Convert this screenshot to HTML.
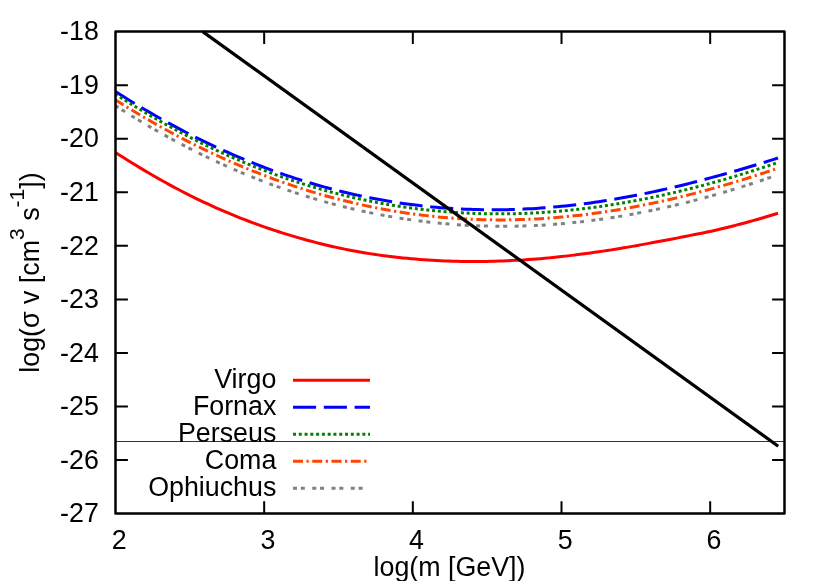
<!DOCTYPE html>
<html><head><meta charset="utf-8"><title>plot</title>
<style>
html,body{margin:0;padding:0;background:#fff;}
body{width:830px;height:581px;overflow:hidden;}
svg{display:block;}
text{font-family:"Liberation Sans",sans-serif;font-size:26.8px;fill:#000;}
</style></head><body>
<svg width="830" height="581" viewBox="0 0 830 581" style="will-change:transform;opacity:0.999">
<rect width="830" height="581" fill="#fff"/>
<g stroke="#000" stroke-width="2" fill="none"><path d="M115.5,460.04h12.4M784.5,460.04h-12.4"/><path d="M115.5,406.49h12.4M784.5,406.49h-12.4"/><path d="M115.5,352.93h12.4M784.5,352.93h-12.4"/><path d="M115.5,299.38h12.4M784.5,299.38h-12.4"/><path d="M115.5,245.82h12.4M784.5,245.82h-12.4"/><path d="M115.5,192.27h12.4M784.5,192.27h-12.4"/><path d="M115.5,138.71h12.4M784.5,138.71h-12.4"/><path d="M115.5,85.16h12.4M784.5,85.16h-12.4"/><path d="M264.17,513.6v-12.4M264.17,31.6v12.4"/><path d="M412.84,513.6v-12.4M412.84,31.6v12.4"/><path d="M561.51,513.6v-12.4M561.51,31.6v12.4"/><path d="M710.18,513.6v-12.4M710.18,31.6v12.4"/></g>
<text x="98.8" y="522.30" text-anchor="end">-27</text><text x="98.8" y="468.74" text-anchor="end">-26</text><text x="98.8" y="415.19" text-anchor="end">-25</text><text x="98.8" y="361.63" text-anchor="end">-24</text><text x="98.8" y="308.08" text-anchor="end">-23</text><text x="98.8" y="254.52" text-anchor="end">-22</text><text x="98.8" y="200.97" text-anchor="end">-21</text><text x="98.8" y="147.41" text-anchor="end">-20</text><text x="98.8" y="93.86" text-anchor="end">-19</text><text x="98.8" y="40.30" text-anchor="end">-18</text>
<text x="119.20" y="549.3" text-anchor="middle">2</text><text x="267.87" y="549.3" text-anchor="middle">3</text><text x="416.54" y="549.3" text-anchor="middle">4</text><text x="565.21" y="549.3" text-anchor="middle">5</text><text x="713.88" y="549.3" text-anchor="middle">6</text>
<text x="449.5" y="575.7" text-anchor="middle">log(m [GeV])</text>
<text transform="translate(39.4,272.5) rotate(-90)" text-anchor="middle">log(σ v [cm<tspan dy="-15" font-size="21">3</tspan><tspan dy="15"> s</tspan><tspan dy="-15" font-size="21">-1</tspan><tspan dy="15">])</tspan></text>
<path d="M115.50,152.46 L119.67,155.15 L123.83,157.81 L128.00,160.44 L132.17,163.03 L136.33,165.59 L140.50,168.11 L144.67,170.60 L148.83,173.05 L153.00,175.47 L157.17,177.86 L161.33,180.21 L165.50,182.53 L169.67,184.82 L173.83,187.07 L178.00,189.29 L182.17,191.48 L186.33,193.63 L190.50,195.73 L194.67,197.80 L198.83,199.81 L203.00,201.79 L207.17,203.73 L211.33,205.64 L215.50,207.52 L219.67,209.36 L223.83,211.16 L228.00,212.93 L232.17,214.67 L236.33,216.37 L240.50,218.04 L244.67,219.67 L248.83,221.26 L253.00,222.82 L257.17,224.35 L261.33,225.84 L265.50,227.31 L269.67,228.74 L273.83,230.14 L278.00,231.51 L282.17,232.84 L286.33,234.15 L290.50,235.42 L294.67,236.66 L298.83,237.88 L303.00,239.06 L307.17,240.20 L311.33,241.32 L315.50,242.40 L319.67,243.46 L323.83,244.48 L328.00,245.47 L332.17,246.43 L336.33,247.35 L340.50,248.25 L344.67,249.12 L348.83,249.95 L353.00,250.76 L357.17,251.53 L361.33,252.27 L365.50,252.97 L369.67,253.64 L373.83,254.27 L378.00,254.87 L382.17,255.44 L386.33,255.99 L390.50,256.50 L394.67,256.99 L398.83,257.46 L403.00,257.90 L407.17,258.32 L411.33,258.71 L415.50,259.07 L419.67,259.41 L423.83,259.72 L428.00,260.01 L432.17,260.26 L436.33,260.50 L440.50,260.71 L444.67,260.89 L448.83,261.05 L453.00,261.18 L457.17,261.29 L461.33,261.38 L465.50,261.44 L469.67,261.48 L473.83,261.50 L478.00,261.49 L482.17,261.46 L486.33,261.40 L490.50,261.32 L494.67,261.22 L498.83,261.10 L503.00,260.95 L507.17,260.78 L511.33,260.59 L515.50,260.37 L519.67,260.14 L523.83,259.88 L528.00,259.60 L532.17,259.30 L536.33,258.97 L540.50,258.63 L544.67,258.26 L548.83,257.87 L553.00,257.47 L557.17,257.04 L561.33,256.59 L565.50,256.12 L569.67,255.63 L573.83,255.13 L578.00,254.60 L582.17,254.06 L586.33,253.51 L590.50,252.94 L594.67,252.35 L598.83,251.75 L603.00,251.14 L607.17,250.51 L611.33,249.86 L615.50,249.20 L619.67,248.52 L623.83,247.82 L628.00,247.11 L632.17,246.39 L636.33,245.65 L640.50,244.89 L644.67,244.13 L648.83,243.37 L653.00,242.60 L657.17,241.84 L661.33,241.06 L665.50,240.28 L669.67,239.49 L673.83,238.68 L678.00,237.87 L682.17,237.04 L686.33,236.22 L690.50,235.40 L694.67,234.58 L698.83,233.75 L703.00,232.91 L707.17,232.05 L711.33,231.16 L715.50,230.24 L719.67,229.29 L723.83,228.30 L728.00,227.27 L732.17,226.22 L736.33,225.14 L740.50,224.04 L744.67,222.93 L748.83,221.80 L753.00,220.67 L757.17,219.50 L761.33,218.29 L765.50,217.06 L769.67,215.81 L773.83,214.53 L778.00,213.24" stroke="#ff0000" stroke-width="3" stroke-dashoffset="0" fill="none"/><path d="M115.50,91.58 L119.67,94.23 L123.83,96.84 L128.00,99.43 L132.17,101.99 L136.33,104.51 L140.50,107.01 L144.67,109.48 L148.83,111.91 L153.00,114.32 L157.17,116.69 L161.33,119.04 L165.50,121.36 L169.67,123.64 L173.83,125.90 L178.00,128.12 L182.17,130.32 L186.33,132.48 L190.50,134.61 L194.67,136.72 L198.83,138.79 L203.00,140.83 L207.17,142.84 L211.33,144.83 L215.50,146.78 L219.67,148.70 L223.83,150.59 L228.00,152.45 L232.17,154.28 L236.33,156.08 L240.50,157.85 L244.67,159.58 L248.83,161.29 L253.00,162.97 L257.17,164.62 L261.33,166.23 L265.50,167.82 L269.67,169.37 L273.83,170.90 L278.00,172.40 L282.17,173.86 L286.33,175.30 L290.50,176.70 L294.67,178.08 L298.83,179.42 L303.00,180.73 L307.17,182.02 L311.33,183.27 L315.50,184.50 L319.67,185.69 L323.83,186.86 L328.00,188.00 L332.17,189.10 L336.33,190.18 L340.50,191.23 L344.67,192.24 L348.83,193.23 L353.00,194.19 L357.17,195.12 L361.33,196.02 L365.50,196.89 L369.67,197.73 L373.83,198.55 L378.00,199.33 L382.17,200.09 L386.33,200.81 L390.50,201.51 L394.67,202.18 L398.83,202.82 L403.00,203.43 L407.17,204.01 L411.33,204.56 L415.50,205.09 L419.67,205.58 L423.83,206.05 L428.00,206.49 L432.17,206.91 L436.33,207.29 L440.50,207.65 L444.67,207.98 L448.83,208.28 L453.00,208.55 L457.17,208.80 L461.33,209.01 L465.50,209.20 L469.67,209.37 L473.83,209.51 L478.00,209.61 L482.17,209.70 L486.33,209.75 L490.50,209.78 L494.67,209.79 L498.83,209.76 L503.00,209.71 L507.17,209.64 L511.33,209.53 L515.50,209.41 L519.67,209.25 L523.83,209.07 L528.00,208.87 L532.17,208.64 L536.33,208.39 L540.50,208.11 L544.67,207.80 L548.83,207.48 L553.00,207.13 L557.17,206.75 L561.33,206.35 L565.50,205.93 L569.67,205.48 L573.83,205.01 L578.00,204.51 L582.17,204.00 L586.33,203.46 L590.50,202.89 L594.67,202.31 L598.83,201.70 L603.00,201.07 L607.17,200.42 L611.33,199.75 L615.50,199.05 L619.67,198.34 L623.83,197.60 L628.00,196.84 L632.17,196.07 L636.33,195.27 L640.50,194.45 L644.67,193.61 L648.83,192.75 L653.00,191.87 L657.17,190.98 L661.33,190.06 L665.50,189.13 L669.67,188.17 L673.83,187.20 L678.00,186.21 L682.17,185.20 L686.33,184.17 L690.50,183.13 L694.67,182.07 L698.83,180.99 L703.00,179.90 L707.17,178.79 L711.33,177.67 L715.50,176.54 L719.67,175.40 L723.83,174.24 L728.00,173.07 L732.17,171.89 L736.33,170.70 L740.50,169.49 L744.67,168.27 L748.83,167.04 L753.00,165.79 L757.17,164.53 L761.33,163.26 L765.50,161.98 L769.67,160.68 L773.83,159.37 L778.00,158.04" stroke="#0000ff" stroke-width="3" stroke-dasharray="23.1 7.7" stroke-dashoffset="0.5" fill="none"/><path d="M115.50,94.14 L119.67,96.83 L123.83,99.48 L128.00,102.09 L132.17,104.68 L136.33,107.24 L140.50,109.76 L144.67,112.25 L148.83,114.71 L153.00,117.14 L157.17,119.54 L161.33,121.90 L165.50,124.23 L169.67,126.54 L173.83,128.81 L178.00,131.05 L182.17,133.26 L186.33,135.44 L190.50,137.58 L194.67,139.70 L198.83,141.79 L203.00,143.84 L207.17,145.86 L211.33,147.85 L215.50,149.82 L219.67,151.75 L223.83,153.65 L228.00,155.52 L232.17,157.35 L236.33,159.16 L240.50,160.94 L244.67,162.68 L248.83,164.40 L253.00,166.08 L257.17,167.74 L261.33,169.36 L265.50,170.95 L269.67,172.52 L273.83,174.05 L278.00,175.55 L282.17,177.02 L286.33,178.46 L290.50,179.87 L294.67,181.25 L298.83,182.60 L303.00,183.92 L307.17,185.21 L311.33,186.47 L315.50,187.70 L319.67,188.90 L323.83,190.07 L328.00,191.22 L332.17,192.33 L336.33,193.42 L340.50,194.47 L344.67,195.50 L348.83,196.50 L353.00,197.47 L357.17,198.41 L361.33,199.32 L365.50,200.21 L369.67,201.06 L373.83,201.89 L378.00,202.69 L382.17,203.46 L386.33,204.20 L390.50,204.91 L394.67,205.60 L398.83,206.26 L403.00,206.89 L407.17,207.49 L411.33,208.06 L415.50,208.61 L419.67,209.13 L423.83,209.62 L428.00,210.08 L432.17,210.52 L436.33,210.93 L440.50,211.31 L444.67,211.67 L448.83,212.00 L453.00,212.30 L457.17,212.57 L461.33,212.82 L465.50,213.04 L469.67,213.24 L473.83,213.41 L478.00,213.55 L482.17,213.67 L486.33,213.76 L490.50,213.82 L494.67,213.86 L498.83,213.87 L503.00,213.86 L507.17,213.82 L511.33,213.75 L515.50,213.66 L519.67,213.54 L523.83,213.40 L528.00,213.24 L532.17,213.04 L536.33,212.83 L540.50,212.59 L544.67,212.32 L548.83,212.03 L553.00,211.72 L557.17,211.38 L561.33,211.02 L565.50,210.63 L569.67,210.22 L573.83,209.78 L578.00,209.33 L582.17,208.85 L586.33,208.34 L590.50,207.81 L594.67,207.26 L598.83,206.69 L603.00,206.09 L607.17,205.48 L611.33,204.83 L615.50,204.17 L619.67,203.48 L623.83,202.78 L628.00,202.05 L632.17,201.30 L636.33,200.52 L640.50,199.73 L644.67,198.91 L648.83,198.08 L653.00,197.22 L657.17,196.34 L661.33,195.44 L665.50,194.52 L669.67,193.58 L673.83,192.62 L678.00,191.64 L682.17,190.64 L686.33,189.62 L690.50,188.58 L694.67,187.52 L698.83,186.44 L703.00,185.35 L707.17,184.23 L711.33,183.10 L715.50,181.94 L719.67,180.77 L723.83,179.58 L728.00,178.37 L732.17,177.15 L736.33,175.91 L740.50,174.64 L744.67,173.37 L748.83,172.07 L753.00,170.76 L757.17,169.42 L761.33,168.08 L765.50,166.71 L769.67,165.33 L773.83,163.93 L778.00,162.51" stroke="#008000" stroke-width="3" stroke-dasharray="3 2.78" stroke-dashoffset="0.5" fill="none"/><path d="M115.50,99.98 L119.67,102.60 L123.83,105.19 L128.00,107.75 L132.17,110.28 L136.33,112.78 L140.50,115.26 L144.67,117.70 L148.83,120.12 L153.00,122.50 L157.17,124.86 L161.33,127.19 L165.50,129.49 L169.67,131.76 L173.83,134.00 L178.00,136.22 L182.17,138.40 L186.33,140.55 L190.50,142.68 L194.67,144.78 L198.83,146.84 L203.00,148.88 L207.17,150.89 L211.33,152.87 L215.50,154.82 L219.67,156.74 L223.83,158.63 L228.00,160.50 L232.17,162.33 L236.33,164.13 L240.50,165.91 L244.67,167.65 L248.83,169.37 L253.00,171.06 L257.17,172.71 L261.33,174.34 L265.50,175.94 L269.67,177.51 L273.83,179.05 L278.00,180.56 L282.17,182.04 L286.33,183.50 L290.50,184.92 L294.67,186.32 L298.83,187.68 L303.00,189.02 L307.17,190.33 L311.33,191.61 L315.50,192.86 L319.67,194.08 L323.83,195.27 L328.00,196.43 L332.17,197.57 L336.33,198.68 L340.50,199.76 L344.67,200.81 L348.83,201.83 L353.00,202.82 L357.17,203.78 L361.33,204.72 L365.50,205.63 L369.67,206.51 L373.83,207.36 L378.00,208.18 L382.17,208.97 L386.33,209.74 L390.50,210.48 L394.67,211.19 L398.83,211.87 L403.00,212.52 L407.17,213.15 L411.33,213.74 L415.50,214.31 L419.67,214.85 L423.83,215.37 L428.00,215.85 L432.17,216.31 L436.33,216.74 L440.50,217.14 L444.67,217.52 L448.83,217.86 L453.00,218.18 L457.17,218.47 L461.33,218.74 L465.50,218.98 L469.67,219.19 L473.83,219.37 L478.00,219.53 L482.17,219.66 L486.33,219.76 L490.50,219.84 L494.67,219.89 L498.83,219.91 L503.00,219.90 L507.17,219.87 L511.33,219.82 L515.50,219.73 L519.67,219.62 L523.83,219.48 L528.00,219.32 L532.17,219.13 L536.33,218.92 L540.50,218.68 L544.67,218.41 L548.83,218.12 L553.00,217.80 L557.17,217.46 L561.33,217.10 L565.50,216.71 L569.67,216.29 L573.83,215.85 L578.00,215.39 L582.17,214.90 L586.33,214.39 L590.50,213.85 L594.67,213.29 L598.83,212.71 L603.00,212.11 L607.17,211.48 L611.33,210.83 L615.50,210.15 L619.67,209.46 L623.83,208.74 L628.00,208.00 L632.17,207.24 L636.33,206.46 L640.50,205.65 L644.67,204.83 L648.83,203.98 L653.00,203.11 L657.17,202.22 L661.33,201.31 L665.50,200.38 L669.67,199.43 L673.83,198.46 L678.00,197.48 L682.17,196.47 L686.33,195.44 L690.50,194.39 L694.67,193.33 L698.83,192.24 L703.00,191.14 L707.17,190.02 L711.33,188.88 L715.50,187.72 L719.67,186.54 L723.83,185.35 L728.00,184.14 L732.17,182.90 L736.33,181.65 L740.50,180.39 L744.67,179.10 L748.83,177.80 L753.00,176.48 L757.17,175.15 L761.33,173.80 L765.50,172.43 L769.67,171.04 L773.83,169.64 L778.00,168.23" stroke="#ff4500" stroke-width="3" stroke-dasharray="10 3.5 2.2 3.56" stroke-dashoffset="0.5" fill="none"/><path d="M115.50,105.74 L119.67,108.41 L123.83,111.04 L128.00,113.65 L132.17,116.22 L136.33,118.76 L140.50,121.27 L144.67,123.74 L148.83,126.19 L153.00,128.61 L157.17,130.99 L161.33,133.34 L165.50,135.67 L169.67,137.96 L173.83,140.22 L178.00,142.45 L182.17,144.64 L186.33,146.81 L190.50,148.95 L194.67,151.06 L198.83,153.13 L203.00,155.18 L207.17,157.19 L211.33,159.18 L215.50,161.13 L219.67,163.05 L223.83,164.95 L228.00,166.81 L232.17,168.64 L236.33,170.45 L240.50,172.22 L244.67,173.96 L248.83,175.68 L253.00,177.36 L257.17,179.01 L261.33,180.64 L265.50,182.23 L269.67,183.79 L273.83,185.33 L278.00,186.83 L282.17,188.31 L286.33,189.76 L290.50,191.17 L294.67,192.56 L298.83,193.92 L303.00,195.25 L307.17,196.55 L311.33,197.82 L315.50,199.07 L319.67,200.28 L323.83,201.47 L328.00,202.62 L332.17,203.75 L336.33,204.86 L340.50,205.93 L344.67,206.97 L348.83,207.99 L353.00,208.98 L357.17,209.94 L361.33,210.87 L365.50,211.77 L369.67,212.65 L373.83,213.50 L378.00,214.32 L382.17,215.11 L386.33,215.88 L390.50,216.61 L394.67,217.32 L398.83,218.01 L403.00,218.66 L407.17,219.29 L411.33,219.89 L415.50,220.46 L419.67,221.01 L423.83,221.52 L428.00,222.01 L432.17,222.48 L436.33,222.91 L440.50,223.32 L444.67,223.71 L448.83,224.06 L453.00,224.39 L457.17,224.69 L461.33,224.97 L465.50,225.22 L469.67,225.44 L473.83,225.64 L478.00,225.81 L482.17,225.95 L486.33,226.07 L490.50,226.16 L494.67,226.22 L498.83,226.26 L503.00,226.28 L507.17,226.26 L511.33,226.22 L515.50,226.16 L519.67,226.06 L523.83,225.95 L528.00,225.80 L532.17,225.63 L536.33,225.44 L540.50,225.22 L544.67,224.97 L548.83,224.70 L553.00,224.41 L557.17,224.09 L561.33,223.74 L565.50,223.37 L569.67,222.98 L573.83,222.56 L578.00,222.11 L582.17,221.65 L586.33,221.15 L590.50,220.64 L594.67,220.10 L598.83,219.54 L603.00,218.95 L607.17,218.34 L611.33,217.71 L615.50,217.05 L619.67,216.37 L623.83,215.67 L628.00,214.95 L632.17,214.20 L636.33,213.43 L640.50,212.64 L644.67,211.82 L648.83,210.98 L653.00,210.13 L657.17,209.25 L661.33,208.34 L665.50,207.42 L669.67,206.48 L673.83,205.51 L678.00,204.52 L682.17,203.51 L686.33,202.48 L690.50,201.43 L694.67,200.36 L698.83,199.27 L703.00,198.16 L707.17,197.03 L711.33,195.88 L715.50,194.70 L719.67,193.51 L723.83,192.30 L728.00,191.06 L732.17,189.81 L736.33,188.53 L740.50,187.24 L744.67,185.93 L748.83,184.59 L753.00,183.24 L757.17,181.87 L761.33,180.48 L765.50,179.07 L769.67,177.64 L773.83,176.19 L778.00,174.72" stroke="#808080" stroke-width="3" stroke-dasharray="4 3.8 4 7.46" stroke-dashoffset="0.5" fill="none"/>
<path d="M202.7,31.6L778.2,446.2" stroke="#000" stroke-width="3.2" fill="none"/>
<path d="M115.5,441.5H784.5" stroke="#000" stroke-width="0.8" fill="none"/>
<text x="276.3" y="387.90" text-anchor="end">Virgo</text><path d="M293,380.30H370" stroke="#ff0000" stroke-width="3" fill="none"/><text x="276.3" y="414.90" text-anchor="end">Fornax</text><path d="M293,407.30H370" stroke="#0000ff" stroke-width="3" stroke-dasharray="23.1 7.7" fill="none"/><text x="276.3" y="441.90" text-anchor="end">Perseus</text><path d="M293,434.30H370" stroke="#008000" stroke-width="3" stroke-dasharray="3 2.78" fill="none"/><text x="276.3" y="468.90" text-anchor="end">Coma</text><path d="M293,461.30H370" stroke="#ff4500" stroke-width="3" stroke-dasharray="10 3.5 2.2 3.56" fill="none"/><text x="276.3" y="495.90" text-anchor="end">Ophiuchus</text><path d="M293,488.30H370" stroke="#808080" stroke-width="3" stroke-dasharray="4 3.8 4 7.46" fill="none"/>
<rect x="115.5" y="31.6" width="669.0" height="482.0" fill="none" stroke="#000" stroke-width="2.5" stroke-linejoin="round"/>
</svg>
</body></html>
